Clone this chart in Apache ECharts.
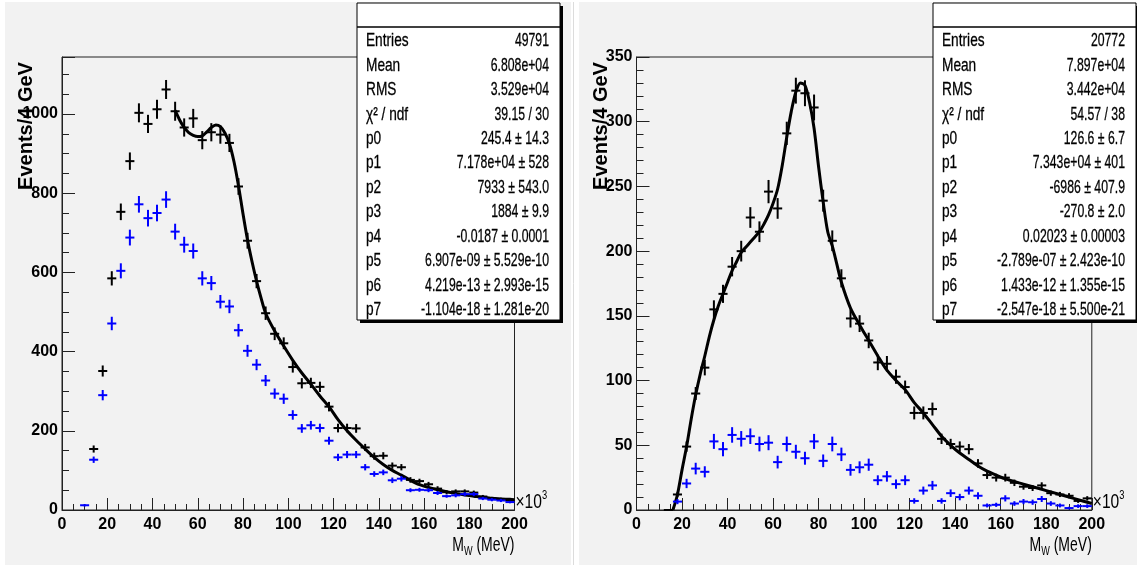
<!DOCTYPE html>
<html><head><meta charset="utf-8">
<script src="https://cdn.jsdelivr.net/npm/echarts@6/dist/echarts.min.js"></script>
<style>html,body{margin:0;padding:0;background:#fff}#c{width:1137px;height:570px}</style>
</head><body><div id="c"></div>
<script>
// ---------- data (x in units of 10^3 MeV, bins of 4) ----------
const leftBlackX = [14,18,22,26,30,34,38,42,46,50,54,58,62,66,70,74,78,82,86,90,94,98,102,106,110,114,118,122,126,130,134,138,142,146,150,154,158,162,166,170,174,178,182,186,190,194,198];
const leftBlackY = [154,351,585,753,881,1003,975,1012,1062,1007,966,989,934,954,948,927,817,680,578,497,445,421,361,320,321,311,261,207,207,206,158,136,137,112,108,76,73,65,54,45,47,47,44,34,29,27,24];
const leftBlackErr = [9,14,18,21,22,24,23,24,24,24,23,24,23,23,23,23,21,20,18,17,16,15,14,13,13,13,12,11,11,11,9,9,9,8,8,7,6,6,6,5,5,5,5,4,4,4,4];

const leftBlueX = [10,14,18,22,26,30,34,38,42,46,50,54,58,62,66,70,74,78,82,86,90,94,98,102,106,110,114,118,122,126,130,134,138,142,146,150,154,158,162,166,170,174,178,182,186,190,194,198];
const leftBlueY = [12,127,290,471,604,688,772,737,750,784,703,670,654,585,573,526,514,454,402,367,327,294,281,240,206,214,207,175,133,140,140,108,91,95,75,79,50,51,50,43,35,37,40,40,29,26,24,20];
const leftBlueErr = [3,8,13,17,19,20,21,21,21,21,20,20,19,18,18,17,17,16,15,14,14,13,13,12,11,11,11,10,9,9,9,8,7,7,7,7,5,5,5,5,4,5,5,5,4,4,4,3];

const leftFitX = [50,52,54,56,58,60,62,64,66,68,70,72,74,76,78,80,82,84,86,88,90,94,98,102,106,110,114,118,122,126,130,134,138,142,146,150,154,158,162,166,170,174,178,182,186,190,194,198,200];
const leftFitY = [1009,985,966,953,946,943,945,955,966,972,968,952,925,880,819,748,682,627,578,535,497,452,414,378,346,318,288,261,228,200,176,154,133,115,100,88,75,64,57,51,46,42,38,35,32,30,28,27,26];

const rightBlackX = [14,18,22,26,30,34,38,42,46,50,54,58,62,66,70,74,78,82,86,90,94,98,102,106,110,114,118,122,126,130,134,138,142,146,150,154,158,162,166,170,174,178,182,186,190,194,198];
const rightBlackY = [0,12,49,90,110,155,167,188,200,226,215,246,233,291,324,322,311,239,208,179,148,144,131,114,113,103,95,75,75,78,55,51,49,47,36,27,25,25,21,18,17,19,13,12,11,7,9];
const rightBlackErr = [0,2,4,5,6,7,7,7.5,8,8,8,9,8,9,10,10,10,8.5,8,7,7,6.5,6,6,6,5.5,5,5,5,5,4,4,4,4,3.3,3,3,3,2.5,2.3,2.3,2.4,2,2,2,1.5,1.7];

const rightBlueX = [18,22,26,30,34,38,42,46,50,54,58,62,66,70,74,78,82,86,90,94,98,102,106,110,114,118,122,126,130,134,138,142,146,150,154,158,162,166,170,174,178,182,186,190,194,198];
const rightBlueY = [6.5,20.5,32,29.5,53,47,58,55,57,51,52,37,51,45,40,53,38,51,43,31,33,35,23,26,20,23,7,15,19,7,13,10,15,11,3.5,4,9,5,6.5,6,8.5,5,3.5,1.5,3,3];
const rightBlueErr = [2,3.6,4.5,4.3,5.8,5.5,6,6,6,5.7,5.8,4.9,5.7,5.4,5,5.8,4.9,5.7,5.2,4.5,4.6,4.7,3.8,4.1,3.6,3.8,2.1,3.1,3.5,2.1,2.9,2.5,3.1,2.7,1.5,1.6,2.4,1.8,2,2,2.3,1.8,1.5,1,1.4,1.4];

const rightFitX = [16,18,20,22,24,26,28,30,32,34,36,38,40,42,44,46,48,50,52,54,56,58,60,62,64,66,68,70,72,74,76,78,80,82,84,86,88,90,94,98,102,106,110,114,118,122,126,130,134,138,142,146,150,154,158,162,166,170,174,178,182,186,190,194,198,200];
const rightFitY = [0,12,31,49,70,89,105,119,134,147,158,167,176,185,192,199,203,207,211,215,221,228,237,248,266,288,308,323,330,328,315,295,265,238,215,204,190,176,156,143,131,119,108,100,93,83,75,66,57,50,44,39,34,30,27,24,22,20,18,16,14,12,10,8,6,5];

const binHalfWidth = 2;
const xTickStep = 20, xMax = 200;
const leftYMax = 1144, leftYStep = 200;
const rightYMax = 350, rightYStep = 50;

const statLabels = ['Entries','Mean','RMS','χ² / ndf','p0','p1','p2','p3','p4','p5','p6','p7'];
const leftStatValues = ['49791','6.808e+04','3.529e+04','39.15 / 30','245.4 ± 14.3','7.178e+04 ± 528','7933 ± 543.0','1884 ± 9.9','-0.0187 ± 0.0001','6.907e-09 ± 5.529e-10','4.219e-13 ± 2.993e-15','-1.104e-18 ± 1.281e-20'];
const rightStatValues = ['20772','7.897e+04','3.442e+04','54.57 / 38','126.6 ± 6.7','7.343e+04 ± 401','-6986 ± 407.9','-270.8 ± 2.0','0.02023 ± 0.00003','-2.789e-07 ± 2.423e-10','1.433e-12 ± 1.355e-15','-2.547e-18 ± 5.500e-21'];
const yTitle = 'Events/4 GeV';

// ---------- helpers ----------
const zip3 = (a,b,c) => a.map((v,i)=>[v,b[i],c[i]]);
const zip2 = (a,b) => a.map((v,i)=>[v,b[i]]);
function crossRenderer(color){
  return function(params, api){
    const x = api.value(0), y = api.value(1), e = api.value(2);
    const l = api.coord([x-binHalfWidth, y]), r = api.coord([x+binHalfWidth, y]);
    const t = api.coord([x, y+e]), b = api.coord([x, y-e]);
    return {type:'group', children:[
      {type:'line', shape:{x1:l[0],y1:l[1],x2:r[0],y2:r[1]}, style:{stroke:color, lineWidth:2}},
      {type:'line', shape:{x1:t[0],y1:t[1],x2:b[0],y2:b[1]}, style:{stroke:color, lineWidth:2}}
    ]};
  };
}
const FONT = '"Liberation Sans",Arial,sans-serif';
const axisColor = '#222';
function xAxisCfg(gi){
  return {type:'value', gridIndex:gi, min:0, max:xMax, interval:xTickStep,
    axisLine:{show:true, onZero:false, lineStyle:{color:axisColor, width:1}},
    axisTick:{show:true, inside:true, length:12, lineStyle:{color:axisColor}},
    minorTick:{show:true, splitNumber:4, length:6, lineStyle:{color:axisColor}},
    splitLine:{show:false},
    axisLabel:{margin:7, fontFamily:FONT, fontWeight:'bold', fontSize:16, color:'#000'}};
}
function yAxisCfg(gi, max, step, minorSplit){
  return {type:'value', gridIndex:gi, min:0, max:max, interval:step,
    axisLine:{show:true, lineStyle:{color:axisColor, width:1}},
    axisTick:{show:true, inside:true, length:13, lineStyle:{color:axisColor}},
    minorTick:{show:true, splitNumber:minorSplit, length:7, lineStyle:{color:axisColor}},
    splitLine:{show:false},
    axisLabel:{margin:4, fontFamily:FONT, fontWeight:'bold', fontSize:16, color:'#000',
      formatter: v => (Math.abs(v % step) < 1e-9 ? String(v) : '')}};
}

// ---------- graphics (panels, stat boxes, titles) ----------
function statBox(x0, w, values){
  const els = [];
  els.push({type:'rect', shape:{x:x0+3,y:6,width:w,height:317}, style:{fill:'#000'}, z:50});
  els.push({type:'rect', shape:{x:x0,y:3,width:w,height:317}, style:{fill:'#fff', stroke:'#000', lineWidth:1}, z:51});
  els.push({type:'line', shape:{x1:x0,y1:27,x2:x0+w,y2:27}, style:{stroke:'#000', lineWidth:1.5}, z:52});
  statLabels.forEach((lab,i)=>{
    const yy = 41 + i*24.45;
    els.push({type:'text', x:x0+9, y:yy, scaleX:0.72, z:53,
      style:{text:lab, fontFamily:FONT, fontSize:19, fill:'#000', stroke:'#000', lineWidth:0.3, align:'left', verticalAlign:'middle'}});
    els.push({type:'text', x:x0+w-11, y:yy, scaleX:0.645, z:53,
      style:{text:values[i], fontFamily:FONT, fontSize:19, fill:'#000', stroke:'#000', lineWidth:0.3, align:'right', verticalAlign:'middle'}});
  });
  return els;
}
function titles(axisRight, yTitleX){
  return [
    {type:'text', x:yTitleX, y:126, rotation:Math.PI/2, z:20,
      style:{text:yTitle, fontFamily:FONT, fontWeight:'bold', fontSize:20, fill:'#000', align:'center', verticalAlign:'middle'}},
    {type:'text', x:axisRight, y:545, scaleX:0.7, z:20,
      style:{text:'{m|M}{w|W}{m| (MeV)}', align:'right', verticalAlign:'middle',
        rich:{m:{fontFamily:FONT, fontSize:20, fill:'#000', lineHeight:22},
              w:{fontFamily:FONT, fontSize:13, fill:'#000', lineHeight:22, padding:[12,0,0,0]}}}},
    {type:'text', x:axisRight+1, y:502, scaleX:0.78, z:20,
      style:{text:'{a|×10}{s|3}', align:'left', verticalAlign:'middle',
        rich:{a:{fontFamily:FONT, fontSize:20, fill:'#000', lineHeight:22},
              s:{fontFamily:FONT, fontSize:12, fill:'#000', lineHeight:22, padding:[0,0,12,0]}}}}
  ];
}
const graphics = [
  {type:'rect', shape:{x:5,y:2,width:566,height:563}, style:{fill:'#f2f2f2'}, z:-10},
  {type:'rect', shape:{x:579,y:2,width:558,height:563}, style:{fill:'#f2f2f2'}, z:-10},
  {type:'line', shape:{x1:573.5,y1:2,x2:573.5,y2:565}, style:{stroke:'#dcdcdc', lineWidth:1}, z:-9},
  ...statBox(357, 203, leftStatValues),
  ...statBox(933, 203, rightStatValues),
  ...titles(514.5, 26),
  ...titles(1091.8, 601)
];

const option = {
  animation:false,
  backgroundColor:'#fff',
  grid:[
    {left:62, top:57, width:452.5, height:453, show:true, borderColor:axisColor, borderWidth:1, backgroundColor:'transparent'},
    {left:636.5, top:57, width:455.3, height:453, show:true, borderColor:axisColor, borderWidth:1, backgroundColor:'transparent'}
  ],
  xAxis:[xAxisCfg(0), xAxisCfg(1)],
  yAxis:[yAxisCfg(0, leftYMax, leftYStep, 4), yAxisCfg(1, rightYMax, rightYStep, 5)],
  graphic: graphics,
  series:[
    {type:'custom', xAxisIndex:0, yAxisIndex:0, renderItem:crossRenderer('#000'), data:zip3(leftBlackX,leftBlackY,leftBlackErr), encode:{x:0,y:1}, z:3},
    {type:'line', xAxisIndex:0, yAxisIndex:0, data:zip2(leftFitX,leftFitY), smooth:0.3, showSymbol:false, lineStyle:{color:'#000', width:3}, z:4},
    {type:'custom', xAxisIndex:0, yAxisIndex:0, renderItem:crossRenderer('#0000ff'), data:zip3(leftBlueX,leftBlueY,leftBlueErr), encode:{x:0,y:1}, z:5},
    {type:'custom', xAxisIndex:1, yAxisIndex:1, renderItem:crossRenderer('#000'), data:zip3(rightBlackX,rightBlackY,rightBlackErr), encode:{x:0,y:1}, z:3},
    {type:'line', xAxisIndex:1, yAxisIndex:1, data:zip2(rightFitX,rightFitY), smooth:0.3, showSymbol:false, lineStyle:{color:'#000', width:3}, z:4},
    {type:'custom', xAxisIndex:1, yAxisIndex:1, renderItem:crossRenderer('#0000ff'), data:zip3(rightBlueX,rightBlueY,rightBlueErr), encode:{x:0,y:1}, z:5}
  ]
};
const chart = echarts.init(document.getElementById('c'), null, {renderer:'canvas'});
chart.setOption(option);
</script></body></html>
